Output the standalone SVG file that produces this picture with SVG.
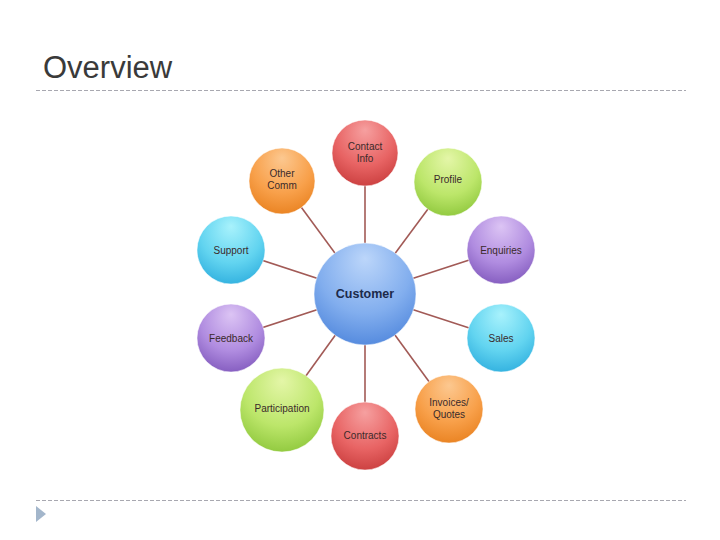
<svg xmlns="http://www.w3.org/2000/svg" width="720" height="540" viewBox="0 0 720 540">
<defs>
<radialGradient id="gRed" cx="50%" cy="30%" r="75%" fx="50%" fy="15%"><stop offset="0" stop-color="#f6a0a0"/><stop offset="0.6" stop-color="#e86464"/><stop offset="1" stop-color="#c83c3c"/></radialGradient>
<radialGradient id="gOrange" cx="50%" cy="30%" r="75%" fx="50%" fy="15%"><stop offset="0" stop-color="#fcc890"/><stop offset="0.6" stop-color="#f8a04a"/><stop offset="1" stop-color="#e8801e"/></radialGradient>
<radialGradient id="gGreen" cx="50%" cy="30%" r="75%" fx="50%" fy="15%"><stop offset="0" stop-color="#e4f6a8"/><stop offset="0.6" stop-color="#bce66a"/><stop offset="1" stop-color="#8cc63a"/></radialGradient>
<radialGradient id="gCyan" cx="50%" cy="30%" r="75%" fx="50%" fy="15%"><stop offset="0" stop-color="#a8f2fc"/><stop offset="0.6" stop-color="#62d4f0"/><stop offset="1" stop-color="#2eaede"/></radialGradient>
<radialGradient id="gPurple" cx="50%" cy="30%" r="75%" fx="50%" fy="15%"><stop offset="0" stop-color="#dcc4f4"/><stop offset="0.6" stop-color="#b08ce0"/><stop offset="1" stop-color="#8058bc"/></radialGradient>
<radialGradient id="gBlue" cx="50%" cy="30%" r="75%" fx="50%" fy="15%"><stop offset="0" stop-color="#bcd6fa"/><stop offset="0.6" stop-color="#82aeee"/><stop offset="1" stop-color="#4f86dc"/></radialGradient>
</defs>
<style>
.t{font-family:"Liberation Sans",Arial,sans-serif;font-size:10px;fill:#3a2a2a;text-anchor:middle}
.c{stroke:#ffffff;stroke-opacity:0.5;stroke-width:1}
.ln{stroke:#a25a56;stroke-width:1.6;fill:none}
.dash{stroke:#a8a8b0;stroke-width:1;stroke-dasharray:4 2}
</style>
<text x="43" y="78" font-family="Liberation Sans,Arial,sans-serif" font-size="31" fill="#3a3a3a">Overview</text>
<line class="dash" x1="36" y1="90.5" x2="686" y2="90.5"/>
<line class="dash" x1="36" y1="500.5" x2="686" y2="500.5"/>
<polygon points="36,506 46,514 36,522" fill="#a3b6cb"/>
<g id="connectors">
<line class="ln" x1="365" y1="294" x2="365" y2="153"/>
<line class="ln" x1="365" y1="294" x2="282" y2="181"/>
<line class="ln" x1="365" y1="294" x2="448" y2="182"/>
<line class="ln" x1="365" y1="294" x2="231" y2="250"/>
<line class="ln" x1="365" y1="294" x2="500" y2="250"/>
<line class="ln" x1="365" y1="294" x2="231" y2="338"/>
<line class="ln" x1="365" y1="294" x2="500" y2="338"/>
<line class="ln" x1="365" y1="294" x2="282" y2="409"/>
<line class="ln" x1="365" y1="294" x2="365" y2="436"/>
<line class="ln" x1="365" y1="294" x2="449" y2="409"/>
</g>
<g id="customer"><circle class="c" cx="365" cy="294" r="51" fill="url(#gBlue)"/><text class="t" x="365" y="298" style="fill:#1c2a4a;font-size:12.5px;font-weight:bold">Customer</text></g>
<g id="contact"><circle class="c" cx="365" cy="153" r="33" fill="url(#gRed)"/><text class="t" x="365" y="150">Contact</text><text class="t" x="365" y="162">Info</text></g>
<g id="othercomm"><circle class="c" cx="282" cy="181" r="33" fill="url(#gOrange)"/><text class="t" x="282" y="177">Other</text><text class="t" x="282" y="189">Comm</text></g>
<g id="profile"><circle class="c" cx="448" cy="182" r="34" fill="url(#gGreen)"/><text class="t" x="448" y="183">Profile</text></g>
<g id="support"><circle class="c" cx="231" cy="250" r="34" fill="url(#gCyan)"/><text class="t" x="231" y="254">Support</text></g>
<g id="enquiries"><circle class="c" cx="501" cy="250" r="34" fill="url(#gPurple)"/><text class="t" x="501" y="254">Enquiries</text></g>
<g id="feedback"><circle class="c" cx="231" cy="338" r="34" fill="url(#gPurple)"/><text class="t" x="231" y="342">Feedback</text></g>
<g id="sales"><circle class="c" cx="501" cy="338" r="34" fill="url(#gCyan)"/><text class="t" x="501" y="342">Sales</text></g>
<g id="participation"><circle class="c" cx="282" cy="410" r="42" fill="url(#gGreen)"/><text class="t" x="282" y="412">Participation</text></g>
<g id="contracts"><circle class="c" cx="365" cy="436" r="34" fill="url(#gRed)"/><text class="t" x="365" y="439">Contracts</text></g>
<g id="invoices"><circle class="c" cx="449" cy="409" r="34" fill="url(#gOrange)"/><text class="t" x="449" y="406">Invoices/</text><text class="t" x="449" y="418">Quotes</text></g>
</svg>
